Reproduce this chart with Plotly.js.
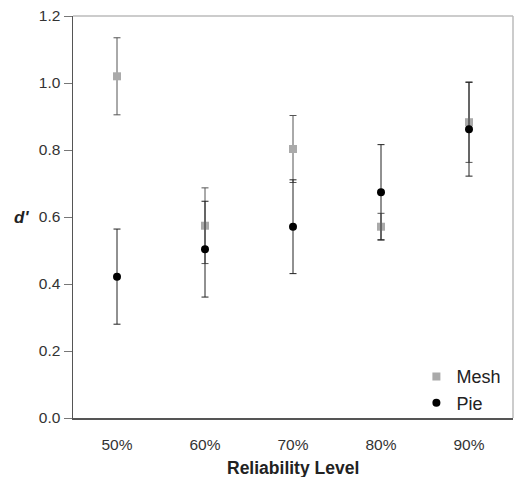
<!DOCTYPE html>
<html>
<head>
<meta charset="utf-8">
<script src="https://cdn.plot.ly/plotly-3.0.1.min.js"></script>
<style>html,body{margin:0;padding:0;background:#fff;}#chart{width:515px;height:477px;}</style>
</head>
<body>
<div id="chart"></div>
<script>
const categories = ["50%", "60%", "70%", "80%", "90%"];
const meshValues = [1.02, 0.574, 0.803, 0.571, 0.883];
const meshErrors = [0.115, 0.113, 0.10, 0.04, 0.12];
const pieValues = [0.422, 0.504, 0.571, 0.674, 0.862];
const pieErrors = [0.142, 0.143, 0.14, 0.142, 0.14];
const yTicks = [0, 0.2, 0.4, 0.6, 0.8, 1.0, 1.2];
const yTickLabels = ["0.0", "0.2", "0.4", "0.6", "0.8", "1.0", "1.2"];

const font = "Liberation Sans, Arial, sans-serif";

const traces = [
  {
    x: categories, y: meshValues, name: "Mesh", type: "scatter", mode: "markers", legendgroup: "a",
    marker: {symbol: "square", size: 8, color: "#aaaaaa"},
    error_y: {type: "data", array: meshErrors, visible: true, color: "#555555", thickness: 1, width: 3.5}
  },
  {
    x: categories, y: pieValues, name: "Pie", type: "scatter", mode: "markers", legendgroup: "b",
    marker: {symbol: "circle", size: 8, color: "#000000"},
    error_y: {type: "data", array: pieErrors, visible: true, color: "#222222", thickness: 1, width: 3.5}
  }
];

const layout = {
  width: 515, height: 477,
  margin: {l: 73, r: 2, t: 16, b: 59},
  paper_bgcolor: "#fff", plot_bgcolor: "#fff",
  font: {family: font, size: 15, color: "#333"},
  showlegend: true,
  legend: {x: 0.985, y: -0.008, xanchor: "right", yanchor: "bottom", bgcolor: "rgba(0,0,0,0)",
           font: {family: font, size: 18, color: "#222"}, itemwidth: 30, tracegroupgap: 8,
           traceorder: "normal"},
  xaxis: {
    type: "category", range: [-0.5, 4.5], showgrid: false, zeroline: false,
    showline: true, linecolor: "#555", linewidth: 1.5, ticks: "", ticklabelstandoff: 12,
    tickfont: {family: font, size: 15.5, color: "#333"}
  },
  yaxis: {
    range: [0, 1.2], tickvals: yTicks, ticktext: yTickLabels, showgrid: false, zeroline: false,
    showline: true, linecolor: "#555", linewidth: 1.5, ticks: "outside", ticklen: 8, tickcolor: "#777",
    tickfont: {family: font, size: 15.5, color: "#333"}
  },
  shapes: [
    {type: "line", xref: "paper", yref: "paper", x0: 0, x1: 1, y0: 1, y1: 1, line: {color: "#bbbbbb", width: 1.5}},
    {type: "line", xref: "paper", yref: "paper", x0: 1, x1: 1, y0: 0, y1: 1, line: {color: "#bbbbbb", width: 1.5}}
  ],
  annotations: [
    {text: "<b><i>d'</i></b>", xref: "paper", yref: "y", x: 0, y: 0.6, xanchor: "center", xshift: -52,
     showarrow: false, font: {family: font, size: 17, color: "#222"}},
    {text: "<b>Reliability Level</b>", xref: "paper", yref: "paper", x: 0.5, y: 0, yanchor: "middle", yshift: -50,
     showarrow: false, font: {family: font, size: 17.5, color: "#222"}}
  ]
};

Plotly.newPlot("chart", traces, layout, {displayModeBar: false, staticPlot: true});
</script>
</body>
</html>
